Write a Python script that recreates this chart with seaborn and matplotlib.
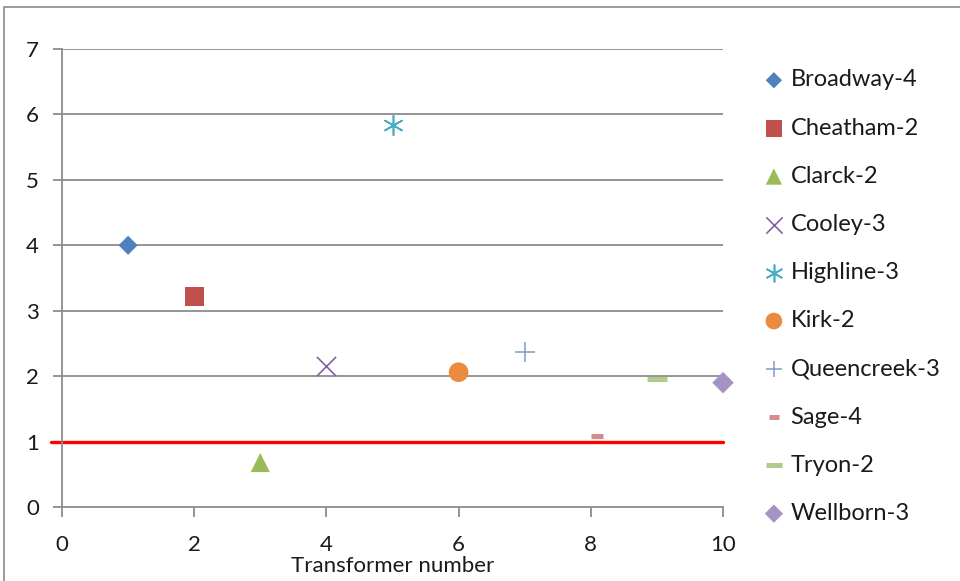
import matplotlib
matplotlib.use("Agg")
import matplotlib.pyplot as plt
from matplotlib.patches import Rectangle
import seaborn as sns
import pandas as pd

# Transformer readings
names = ["Broadway-4", "Cheatham-2", "Clarck-2", "Cooley-3", "Highline-3",
         "Kirk-2", "Queencreek-3", "Sage-4", "Tryon-2", "Wellborn-3"]
transformer = [1, 2, 3, 4, 5, 6, 7, 8.1, 9, 10]
values = [4.0, 3.22, 0.68, 2.16, 5.84, 2.06, 2.37, 1.08, 1.95, 1.90]
threshold = 1.0

x_ticks = [0, 2, 4, 6, 8, 10]
y_ticks = [0, 1, 2, 3, 4, 5, 6, 7]

colors = ["#4F81BD", "#C0504D", "#9BBB59", "#8064A2", "#4BACC6",
          "#EA8B3F", "#7F9CCD", "#D98B8A", "#B3CB8A", "#A594C2"]
markers = ["D", "s", "^", "x", (6, 2, 0), "o", "+", "_", "_", "D"]
sizes = [95, 190, 190, 190, 200, 200, 190, 70, 190, 120]
widths = [0, 0, 0, 1.2, 1.2, 0, 1.1, 3.6, 3.6, 0]

df = pd.DataFrame({"name": names, "x": transformer, "y": values})

sns.set_theme(style="white")
plt.rcParams["font.family"] = ["Lato", "DejaVu Sans"]
text_color = "#1a1a1a"
grid_color = "#8c8c8c"
fs = 16

fig = plt.figure(figsize=(9.6, 5.81), dpi=100)
ax = fig.add_axes([62 / 960, 74 / 581, 661 / 960, 458 / 581])

# Horizontal gridlines
for yv in y_ticks[1:]:
    ax.axhline(yv, color=grid_color, lw=1.3, zorder=1)

# Threshold line, running out over the tick mark
ax.axhline(threshold, xmin=-0.017, xmax=1, color="#FF0000", lw=2.4,
           zorder=2, clip_on=False)

for i, row in df.iterrows():
    m = markers[i]
    unfilled = m in ("x", "+", "_") or isinstance(m, tuple)
    kw = dict(color=colors[i], linewidth=widths[i])
    kw["edgecolor"] = colors[i] if unfilled else "none"
    sns.scatterplot(x=[row["x"]], y=[row["y"]], marker=m, s=sizes[i],
                    label=row["name"], ax=ax, zorder=3, clip_on=False, **kw)

ax.set_xlim(0, 10)
ax.set_ylim(0, 7)
ax.set_xticks(x_ticks)
ax.set_yticks(y_ticks)

for side in ["top", "right"]:
    ax.spines[side].set_visible(False)
for side in ["left", "bottom"]:
    ax.spines[side].set_color(grid_color)
    ax.spines[side].set_linewidth(1.3)

ax.tick_params(axis="y", direction="out", length=6.5, width=1.3, color=grid_color,
               pad=10, labelsize=fs, labelcolor=text_color, left=True)
ax.tick_params(axis="x", direction="out", length=7, width=1.3, color=grid_color,
               pad=13, labelsize=fs, labelcolor=text_color, bottom=True)

ax.set_xlabel("Transformer number", fontsize=fs, color=text_color, va="center")
ax.xaxis.set_label_coords(0.5, -59 / 458)
ax.set_ylabel("")

handles, labels = ax.get_legend_handles_labels()
ax.legend(handles, labels, loc="upper left", bbox_to_anchor=(755 / 960, 1 - 60 / 581),
          bbox_transform=fig.transFigure, frameon=False, fontsize=17,
          labelcolor=text_color, handlelength=0.8, handletextpad=0.3,
          labelspacing=1.15, markerscale=0.85, borderaxespad=0)

# Outer chart frame
fig.patches.append(Rectangle((4 / 960, -0.2), 1.5, 1.2 - 7 / 581,
                             transform=fig.transFigure, fill=False,
                             edgecolor="#8a8a8a", lw=1.2, clip_on=False))

fig.savefig("out.png", dpi=100)
